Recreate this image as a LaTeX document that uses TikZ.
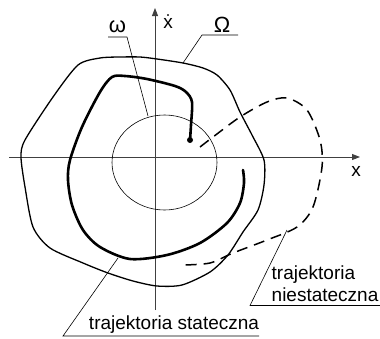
\documentclass[tikz,border=0pt]{standalone}
\usepackage{fontspec}
\setmainfont{Liberation Sans}
\usepackage{tikz}
\usetikzlibrary{arrows.meta}

\begin{document}
\begin{tikzpicture}[x=1pt,y=-1pt,
  lbl/.style={inner sep=0pt,font=\fontsize{19}{22}\selectfont},
  grk/.style={inner sep=0pt,font=\fontsize{22}{24}\selectfont},
  lead/.style={line width=0.6pt},
  axis/.style={line width=0.9pt,black!75,-{Triangle[length=8pt,width=6pt]}}]
\useasboundingbox(0,0)rectangle(380,338);
% axes
\coordinate(xa)at(9,157);\coordinate(xb)at(360,157);
\coordinate(ya)at(155,310);\coordinate(yb)at(155,8);
\draw[axis](xa)--(xb);
\draw[axis](ya)--(yb);
\node[lbl,anchor=base](xl)at(356,176){x};
\node[lbl,anchor=base](yl)at(168,28){\.{x}};
% region omega and Omega
\draw[line width=0.6pt](164.5,162.5)ellipse[x radius=52.5,y radius=47.5];
\draw[line width=1.3pt]plot[smooth cycle,tension=0.45]coordinates{(78,65)(100,58)(120,57)(140,57)(157,59)(183,63)(203,68)(217,75)(230,90)(240,112)(252,135)(264,160)(264,185)(258,210)(243,232)(228,255)(210,272)(182,285)(157,286)(133,281)(108,273)(83,263)(50,248)(33,227)(25,187)(21,157)(25,140)(53,97)};
% stable trajectory
\draw[line width=2.6pt,line cap=round]plot[smooth,tension=0.5]coordinates{(190,140)(191,125)(192,102)(186,92)(175,86)(147,79)(125,76)(112,77)(100,92)(82,127)(70,160)(68,180)(72,205)(83,230)(100,247)(130,259)(167,255)(200,243)(227,223)(240,203)(244,183)(243,170)};
\fill(190,140)circle(3pt);
% unstable trajectory
\draw[line width=1.5pt,dash pattern=on 11pt off 7pt]plot[smooth,tension=0.5]coordinates{(200,147)(213,137)(240,117)(267,102)(287,98)(307,110)(320,140)(322,167)(313,207)(297,227)(267,240)(233,253)(210,263)(183,265)};
% labels
\node[grk,anchor=base](om)at(117.5,32){ω};
\node[grk,anchor=base](Om)at(222,32){Ω};
\node[lbl,anchor=base](st)at(174,329){trajektoria stateczna};
\node[lbl,anchor=north west,align=left](nst)at(271.5,266){trajektoria\\niestateczna};
\coordinate(omA)at(148,116);\coordinate(OmA)at(183,63);
\coordinate(stA)at(118,258);\coordinate(nstA)at(287,230);
\draw[lead](108,37)--(127,37)--(omA);
\draw[lead](OmA)--(202,35)--(238,35);
\draw[lead](stA)--(63,336)--(st.east|-0,336);
\draw[lead](nstA)--(250,305.5)--(380,305.5);
\end{tikzpicture}
\end{document}
